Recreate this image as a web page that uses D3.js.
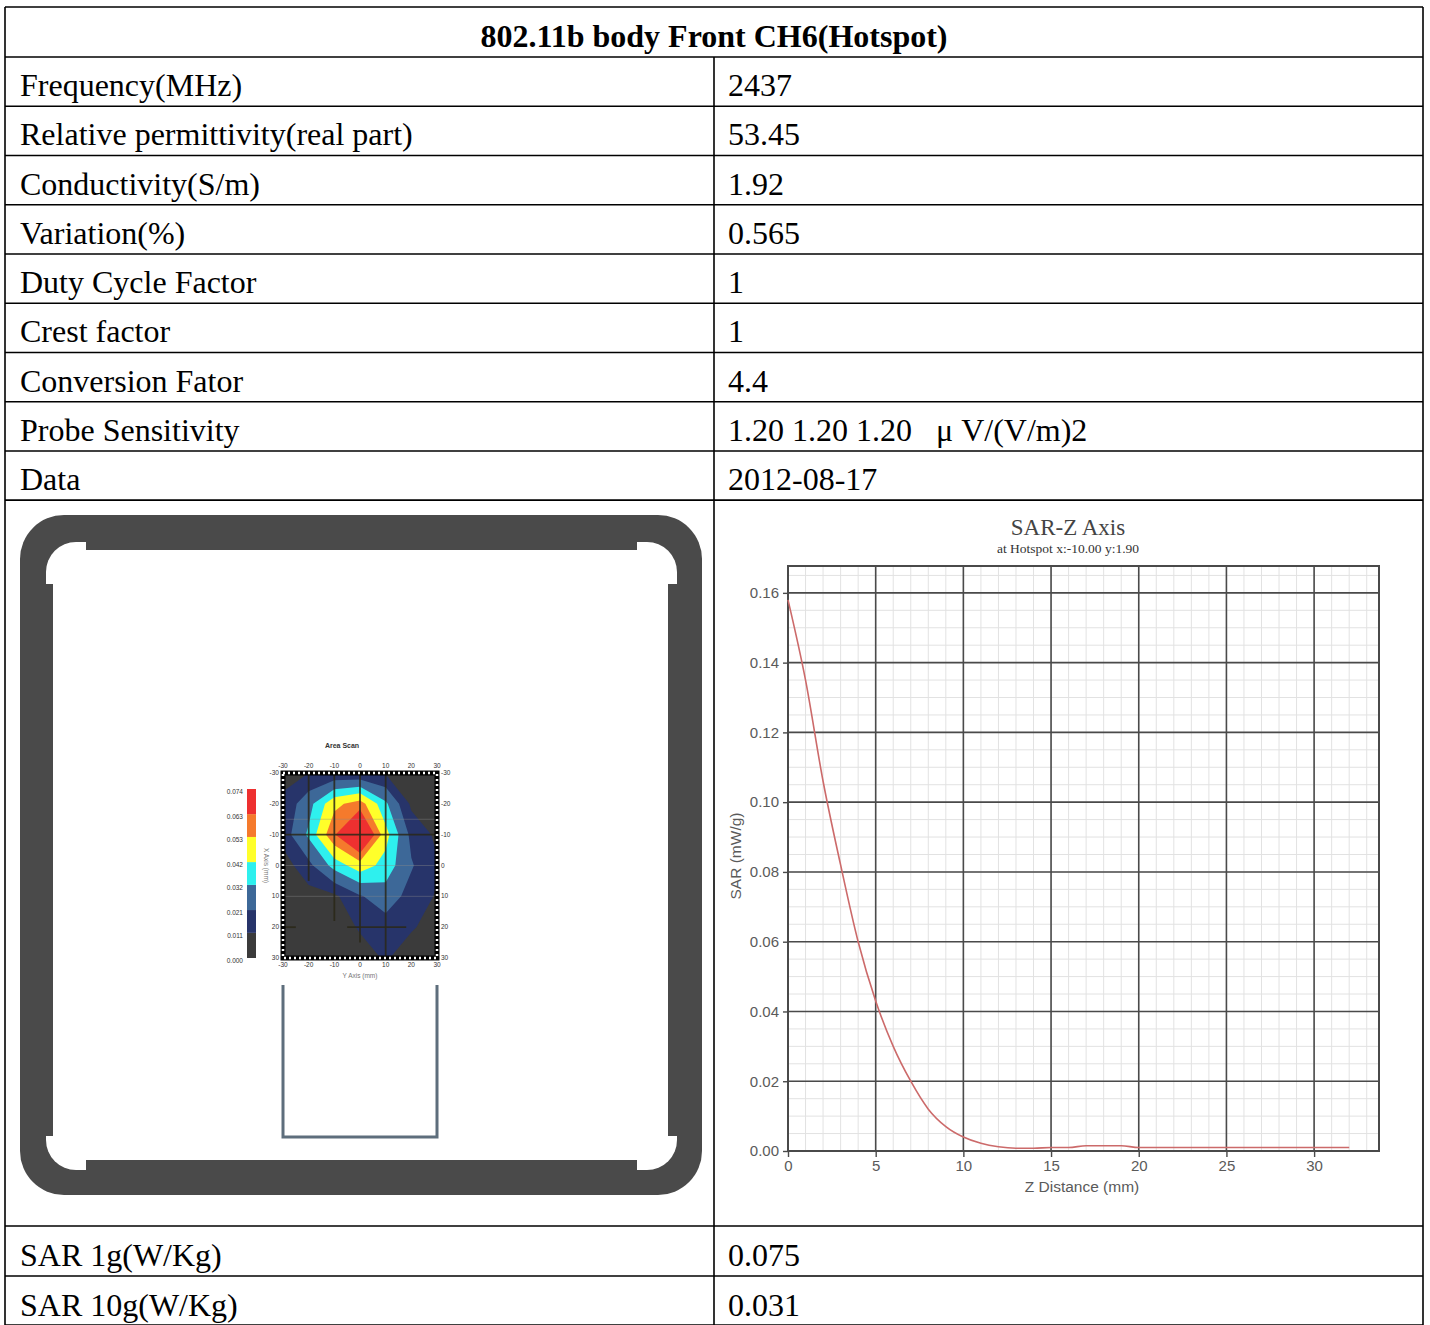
<html>
<head>
<script src="https://cdn.jsdelivr.net/npm/d3@7"></script>
<style>body{margin:0;background:#fff}</style>
</head>
<body>
<div id="d3"></div>
<script>
// table content
const title = "802.11b body Front CH6(Hotspot)"
const rowLabels = ["Frequency(MHz)", "Relative permittivity(real part)", "Conductivity(S/m)", "Variation(%)",
  "Duty Cycle Factor", "Crest factor", "Conversion Fator", "Probe Sensitivity", "Data"]
const rowValues = ["2437", "53.45", "1.92", "0.565", "1", "1", "4.4", "1.20 1.20 1.20   \u03bc V/(V/m)2", "2012-08-17"]
const resultLabels = ["SAR 1g(W/Kg)", "SAR 10g(W/Kg)"]
const resultValues = ["0.075", "0.031"]

// SAR-Z axis curve
const zDist = [0, 1, 2, 3, 4, 5, 6, 7, 8, 9, 10, 11, 12, 13, 14, 15, 16, 17, 18, 19, 20, 22, 24, 26, 28, 30, 32]
const zSar = [0.158, 0.135, 0.106, 0.082, 0.060, 0.043, 0.030, 0.020, 0.012, 0.007, 0.004, 0.0022, 0.0012, 0.0008,
  0.0008, 0.0010, 0.0010, 0.0015, 0.0015, 0.0015, 0.0010, 0.0010, 0.0010, 0.0010, 0.0010, 0.0010, 0.0010]
const zTicksX = [0, 5, 10, 15, 20, 25, 30]
const zTicksY = [0, 0.02, 0.04, 0.06, 0.08, 0.10, 0.12, 0.14, 0.16]

// area scan grid (rows y -30..30, cols x -30..30)
const scanX = [-30, -20, -10, 0, 10, 20, 30]
const scanY = [-30, -20, -10, 0, 10, 20, 30]
const scanSar = [
  0.008, 0.011, 0.012, 0.011, 0.010, 0.006, 0.004,
  0.013, 0.028, 0.050, 0.058, 0.034, 0.009, 0.005,
  0.015, 0.034, 0.062, 0.085, 0.046, 0.018, 0.009,
  0.006, 0.018, 0.036, 0.048, 0.038, 0.022, 0.012,
  0.004, 0.007, 0.009, 0.020, 0.027, 0.017, 0.010,
  0.003, 0.004, 0.006, 0.012, 0.016, 0.012, 0.007,
  0.002, 0.003, 0.004, 0.007, 0.012, 0.006, 0.004
]
const levels = [0, 0.011, 0.021, 0.032, 0.042, 0.053, 0.063, 0.074]
const levelLabels = ["0.000", "0.011", "0.021", "0.032", "0.042", "0.053", "0.063", "0.074"]
const levelColors = ["#3b3b3b", "#27346a", "#3d6898", "#2ef0ee", "#ffff2a", "#f57a2c", "#ee3030"]
// scan path lines [x1, y1, x2, y2] in mm
const scanPath = [[-20, -30, -20, 5], [-10, -30, -10, 18], [0, -30, 0, 25], [10, -30, 10, 30],
  [-30, -10, 30, -10], [-30, 20, -25, 20], [-5, 20, 18, 20]]

const W = 1430, H = 1325
const svg = d3.select("#d3").append("svg").attr("width", W).attr("height", H)

const L = 5, R = 1423, MID = 714
const rowTops = [7, 57]
for (let i = 1; i <= 9; i++) rowTops.push(57 + i * 49.25)
const picBottom = 1226
const resTops = [picBottom, picBottom + 50]

const serif = "'Liberation Serif', 'Times New Roman', serif"
const sans = "'Liberation Sans', Arial, sans-serif"
const FS = 32

// ---- table text
svg.append("text").attr("x", MID).attr("y", 47).attr("text-anchor", "middle")
  .attr("font-family", serif).attr("font-weight", "bold").attr("font-size", FS).text(title)

rowLabels.forEach((d, i) => {
  const y = rowTops[i + 1] + 39
  svg.append("text").attr("x", 20).attr("y", y).attr("font-family", serif).attr("font-size", FS).text(d)
  svg.append("text").attr("x", 728).attr("y", y).attr("font-family", serif).attr("font-size", FS)
    .style("white-space", "pre").text(rowValues[i])
})
resultLabels.forEach((d, i) => {
  const y = resTops[i] + 40
  svg.append("text").attr("x", 20).attr("y", y).attr("font-family", serif).attr("font-size", FS).text(d)
  svg.append("text").attr("x", 728).attr("y", y).attr("font-family", serif).attr("font-size", FS).text(resultValues[i])
})

// ---- table lines
const lines = svg.append("g").attr("stroke", "#000").attr("stroke-width", 1.6)
rowTops.concat([500.25, picBottom, picBottom + 50, H])
  .forEach(y => lines.append("line").attr("x1", L).attr("x2", R).attr("y1", y).attr("y2", y))
lines.append("line").attr("x1", L).attr("x2", L).attr("y1", 7).attr("y2", H)
lines.append("line").attr("x1", R).attr("x2", R).attr("y1", 7).attr("y2", H)
lines.append("line").attr("x1", MID).attr("x2", MID).attr("y1", 57).attr("y2", H)

// ---- phantom frame (left picture)
const frame = svg.append("g")
frame.append("rect").attr("x", 20).attr("y", 515).attr("width", 682).attr("height", 680).attr("rx", 44).attr("fill", "#4a4a4a")
frame.append("rect").attr("x", 46).attr("y", 542).attr("width", 631).attr("height", 628).attr("rx", 30).attr("fill", "#fff")
frame.append("rect").attr("x", 86).attr("y", 540).attr("width", 551).attr("height", 10).attr("fill", "#4a4a4a")
frame.append("rect").attr("x", 86).attr("y", 1160).attr("width", 551).attr("height", 12).attr("fill", "#4a4a4a")
frame.append("rect").attr("x", 44).attr("y", 584).attr("width", 9).attr("height", 552).attr("fill", "#4a4a4a")
frame.append("rect").attr("x", 668).attr("y", 584).attr("width", 10).attr("height", 552).attr("fill", "#4a4a4a")

// device outline below the scan
const hx = d3.scaleLinear().domain([-30, 30]).range([283, 437])
const hy = d3.scaleLinear().domain([-30, 30]).range([773, 958])
frame.append("path").attr("fill", "none").attr("stroke", "#5e6e7c").attr("stroke-width", 3)
  .attr("d", `M${hx(-30)},985V1137H${hx(30)}V985`)

// ---- area scan contour plot
const scan = svg.append("g")
scan.append("clipPath").attr("id", "scan-clip").append("rect")
  .attr("x", hx(-30)).attr("y", hy(-30)).attr("width", hx(30) - hx(-30)).attr("height", hy(30) - hy(-30))
const gx = g => hx(scanX[0] + (g - 0.5) * (scanX[1] - scanX[0]))
const gy = g => hy(scanY[0] + (g - 0.5) * (scanY[1] - scanY[0]))
const proj = d3.geoTransform({ point: function (x, y) { this.stream.point(gx(x), gy(y)) } })
const cpath = d3.geoPath(proj)
const contours = d3.contours().size([scanX.length, scanY.length]).thresholds(levels.slice(0, 7))(scanSar)
scan.append("g").attr("clip-path", "url(#scan-clip)")
  .selectAll("path").data(contours).join("path")
  .attr("d", cpath).attr("fill", (d, i) => levelColors[i])
// faint lines
scan.selectAll(".faint").data([-15, 0, 10]).join("line").attr("class", "faint")
  .attr("x1", hx(-30)).attr("x2", hx(30)).attr("y1", d => hy(d)).attr("y2", d => hy(d))
  .attr("stroke", "#8a8a8a").attr("stroke-opacity", 0.5).attr("stroke-width", 0.8)
scan.selectAll(".path").data(scanPath).join("line").attr("class", "path")
  .attr("x1", d => hx(d[0])).attr("y1", d => hy(d[1])).attr("x2", d => hx(d[2])).attr("y2", d => hy(d[3]))
  .attr("stroke", "#2a2818").attr("stroke-width", 1.8).attr("stroke-opacity", 0.85)
// checkered border
scan.append("rect").attr("x", hx(-30)).attr("y", hy(-30)).attr("width", hx(30) - hx(-30)).attr("height", hy(30) - hy(-30))
  .attr("fill", "none").attr("stroke", "#000").attr("stroke-width", 5)
scan.append("rect").attr("x", hx(-30)).attr("y", hy(-30)).attr("width", hx(30) - hx(-30)).attr("height", hy(30) - hy(-30))
  .attr("fill", "none").attr("stroke", "#fff").attr("stroke-width", 2.5).attr("stroke-dasharray", "2,3")

const tinyFont = g => g.attr("font-family", sans).attr("font-size", 6.5).attr("fill", "#333")
scan.append("g").call(tinyFont).attr("text-anchor", "middle").selectAll("text").data(scanX).join("text")
  .attr("x", d => hx(d)).attr("y", hy(-30) - 5).text(d => d)
scan.append("g").call(tinyFont).attr("text-anchor", "middle").selectAll("text").data(scanX).join("text")
  .attr("x", d => hx(d)).attr("y", hy(30) + 9).text(d => d)
scan.append("g").call(tinyFont).attr("text-anchor", "end").selectAll("text").data(scanY).join("text")
  .attr("x", hx(-30) - 4).attr("y", d => hy(d) + 2).text(d => d)
scan.append("g").call(tinyFont).attr("text-anchor", "start").selectAll("text").data(scanY).join("text")
  .attr("x", hx(30) + 4).attr("y", d => hy(d) + 2).text(d => d)
scan.append("text").call(tinyFont).attr("font-weight", "bold").attr("font-size", 7).attr("text-anchor", "middle")
  .attr("x", hx(-7)).attr("y", 748).text("Area Scan")
scan.append("text").call(tinyFont).attr("text-anchor", "middle").attr("fill", "#777")
  .attr("x", hx(0)).attr("y", hy(30) + 20).text("Y Axis (mm)")
scan.append("text").call(tinyFont).attr("text-anchor", "middle").attr("fill", "#777")
  .attr("transform", `translate(264,${hy(0)}) rotate(90)`).text("X Axis (mm)")

// colour bar
const cy = d3.scaleLinear().domain([0, 0.074]).range([958, 789])
scan.selectAll(".band").data(levelColors).join("rect").attr("class", "band")
  .attr("x", 247).attr("width", 9)
  .attr("y", (d, i) => cy(levels[i + 1])).attr("height", (d, i) => cy(levels[i]) - cy(levels[i + 1]))
  .attr("fill", d => d)
scan.append("g").call(tinyFont).attr("text-anchor", "end").selectAll("text").data(levelLabels).join("text")
  .attr("x", 243).attr("y", (d, i) => cy(levels[i]) + 5).text(d => d)

// ---- SAR-Z axis chart
const x = d3.scaleLinear().domain([0, 33.7]).range([788, 1379])
const y = d3.scaleLinear().domain([0, 0.1677]).range([1151, 566])
const chart = svg.append("g")
chart.append("g").selectAll("line").data(d3.range(1, 34)).join("line")
  .attr("x1", d => x(d)).attr("x2", d => x(d)).attr("y1", y.range()[1]).attr("y2", y.range()[0])
  .attr("stroke", "#e2e2e2").attr("stroke-width", 1)
chart.append("g").selectAll("line").data(d3.range(0.005, 0.166, 0.005)).join("line")
  .attr("y1", d => y(d)).attr("y2", d => y(d)).attr("x1", x.range()[0]).attr("x2", x.range()[1])
  .attr("stroke", "#e2e2e2").attr("stroke-width", 1)
chart.append("g").selectAll("line").data(zTicksX.slice(1)).join("line")
  .attr("x1", d => x(d)).attr("x2", d => x(d)).attr("y1", y.range()[1]).attr("y2", y.range()[0])
  .attr("stroke", "#4a4a4a").attr("stroke-width", 1.6)
chart.append("g").selectAll("line").data(zTicksY.slice(1)).join("line")
  .attr("y1", d => y(d)).attr("y2", d => y(d)).attr("x1", x.range()[0]).attr("x2", x.range()[1])
  .attr("stroke", "#4a4a4a").attr("stroke-width", 1.6)
chart.append("rect").attr("x", x.range()[0]).attr("y", y.range()[1])
  .attr("width", x.range()[1] - x.range()[0]).attr("height", y.range()[0] - y.range()[1])
  .attr("fill", "none").attr("stroke", "#4a4a4a").attr("stroke-width", 2)

const axStyle = g => {
  g.select(".domain").remove()
  g.selectAll(".tick line").attr("stroke", "#4a4a4a").attr("stroke-width", 1.4)
  g.selectAll(".tick text").attr("fill", "#5a5a5a").attr("font-family", sans).attr("font-size", 15)
}
chart.append("g").attr("transform", `translate(0,${y(0)})`)
  .call(d3.axisBottom(x).tickValues(zTicksX).tickSize(6).tickPadding(3).tickFormat(d3.format("d")))
  .call(axStyle)
chart.append("g").attr("transform", `translate(${x(0)},0)`)
  .call(d3.axisLeft(y).tickValues(zTicksY).tickSize(5).tickPadding(4).tickFormat(d3.format(".2f")))
  .call(axStyle)

chart.append("path").datum(zDist.map((d, i) => [d, zSar[i]]))
  .attr("fill", "none").attr("stroke", "#cc6a6a").attr("stroke-width", 1.6)
  .attr("d", d3.line().x(d => x(d[0])).y(d => y(d[1])).curve(d3.curveMonotoneX))

chart.append("text").attr("x", 1068).attr("y", 535).attr("text-anchor", "middle")
  .attr("font-family", serif).attr("font-size", 23).attr("fill", "#444").text("SAR-Z Axis")
chart.append("text").attr("x", 1068).attr("y", 553).attr("text-anchor", "middle")
  .attr("font-family", serif).attr("font-size", 13.5).attr("fill", "#333").text("at Hotspot x:-10.00 y:1.90")
chart.append("text").attr("x", 1082).attr("y", 1192).attr("text-anchor", "middle")
  .attr("font-family", sans).attr("font-size", 15.5).attr("fill", "#5a5a5a").text("Z Distance (mm)")
chart.append("text").attr("transform", `translate(741,${856}) rotate(-90)`).attr("text-anchor", "middle")
  .attr("font-family", sans).attr("font-size", 15.5).attr("fill", "#5a5a5a").text("SAR (mW/g)")
</script>
</body>
</html>
